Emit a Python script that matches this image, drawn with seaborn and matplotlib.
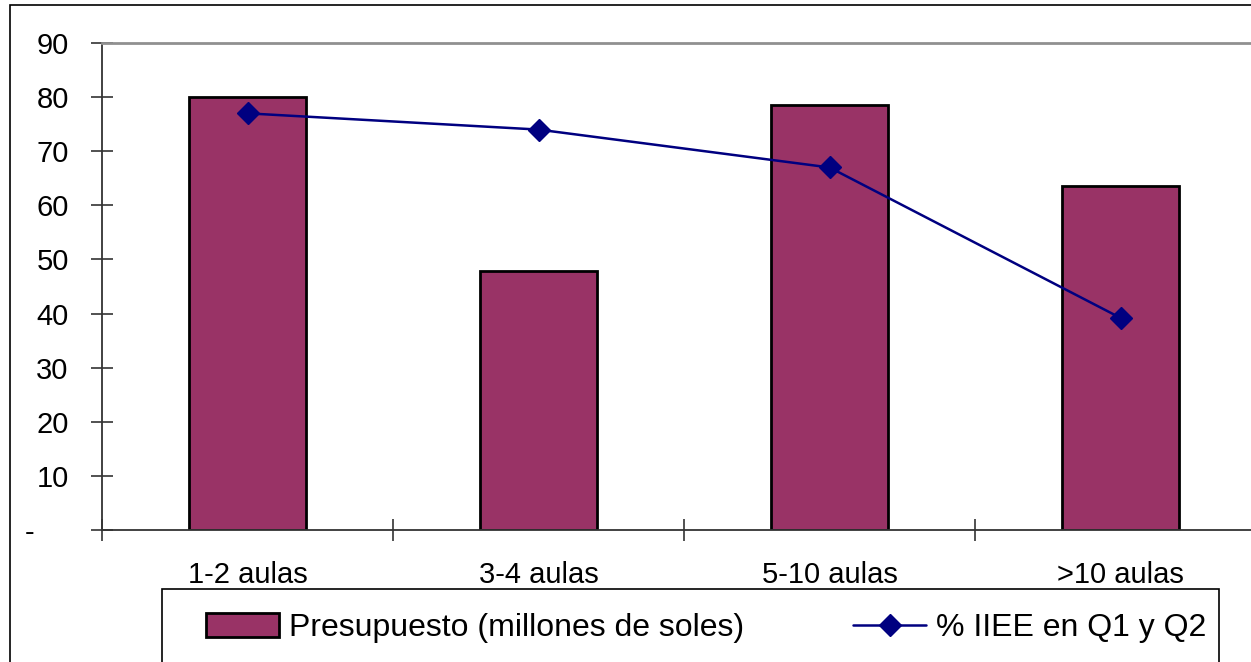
import numpy as np
import pandas as pd
import seaborn as sns
import matplotlib.pyplot as plt
import matplotlib.transforms as mtransforms
from matplotlib.patches import Rectangle, Patch
from matplotlib.lines import Line2D

# Data
categorias = ['1-2 aulas', '3-4 aulas', '5-10 aulas', '>10 aulas']
presupuesto = [80.0, 47.8, 78.6, 63.6]
pct_iiee = [77.0, 74.0, 67.0, 39.2]
yticks = [0, 10, 20, 30, 40, 50, 60, 70, 80, 90]
ytick_labels = ['-', '10', '20', '30', '40', '50', '60', '70', '80', '90']
label_barra = 'Presupuesto (millones de soles)'
label_linea = '% IIEE en Q1 y Q2'

BAR_COLOR = '#993366'
LINE_COLOR = '#000080'

sns.set_style('white')
plt.rcParams['font.family'] = ['Liberation Sans', 'DejaVu Sans']
plt.rcParams['text.color'] = 'black'
plt.rcParams['xtick.color'] = 'black'
plt.rcParams['ytick.color'] = 'black'

df = pd.DataFrame({'cat': categorias, 'presupuesto': presupuesto, 'pct': pct_iiee})

W, H = 1251, 662
fig = plt.figure(figsize=(W / 100, H / 100), dpi=100)
ax = fig.add_axes([102 / W, (H - 530) / H, 1164 / W, 487 / H])

sns.barplot(data=df, x='cat', y='presupuesto', color=BAR_COLOR, width=0.4,
            edgecolor='black', linewidth=2.0, saturation=1, ax=ax)
ax.plot(range(len(categorias)), df['pct'], color=LINE_COLOR, lw=1.8,
        marker='D', markersize=11, markerfacecolor=LINE_COLOR,
        markeredgecolor=LINE_COLOR)

ax.set_xlim(-0.5, len(categorias) - 0.5)
ax.set_ylim(0, 90)
ax.set_xlabel('')
ax.set_ylabel('')
ax.set_yticks(yticks)
ax.set_yticklabels(ytick_labels)

# category ticks sit on the boundaries
ax.set_xticks(np.arange(len(categorias) + 1) - 0.5, minor=False)
ax.set_xticklabels([])
ax.set_xticks(range(len(categorias)), minor=True)
ax.set_xticklabels(categorias, minor=True, fontsize=21)
ax.tick_params(axis='x', which='minor', bottom=True, length=0, pad=22)
ax.tick_params(axis='x', which='major', bottom=True, direction='inout',
               length=16, width=1.2, color='#333333')
ax.tick_params(axis='y', left=True, direction='inout', length=16, width=1.2,
               color='#333333', labelsize=21, pad=16)

ax.spines['right'].set_visible(False)
ax.spines['top'].set_color('#909090')
ax.spines['top'].set_linewidth(2)
for s in ['left', 'bottom']:
    ax.spines[s].set_color('#333333')
    ax.spines[s].set_linewidth(1.3)

# Excel-style dash for zero sits further left
zero_lbl = ax.get_yticklabels()[0]
zero_lbl.set_transform(zero_lbl.get_transform() +
                       mtransforms.ScaledTranslation(-0.34, 0, fig.dpi_scale_trans))

# outer chart frame
fig.patches.append(Rectangle((10 / W, -0.2), 1.2, (H - 5) / H + 0.2,
                             transform=fig.transFigure, fill=False,
                             edgecolor='black', lw=1.2, zorder=0))

# legend box
fig.patches.append(Rectangle((162 / W, -0.2), (1219 - 162) / W, (H - 589) / H + 0.2,
                             transform=fig.transFigure, fill=False,
                             edgecolor='black', lw=1.2, zorder=5))

handles = [Patch(facecolor=BAR_COLOR, edgecolor='black', linewidth=2.0),
           Line2D([], [], color=LINE_COLOR, lw=1.8, marker='D', markersize=11)]
fig.legend(handles, [label_barra, label_linea], loc='center left',
           bbox_to_anchor=(206 / W, (H - 628) / H), ncol=2, frameon=False,
           borderpad=0, borderaxespad=0, fontsize=23, handlelength=2.3,
           handleheight=0.75, handletextpad=0.3, columnspacing=3.4)

fig.savefig('out.png', dpi=100)
